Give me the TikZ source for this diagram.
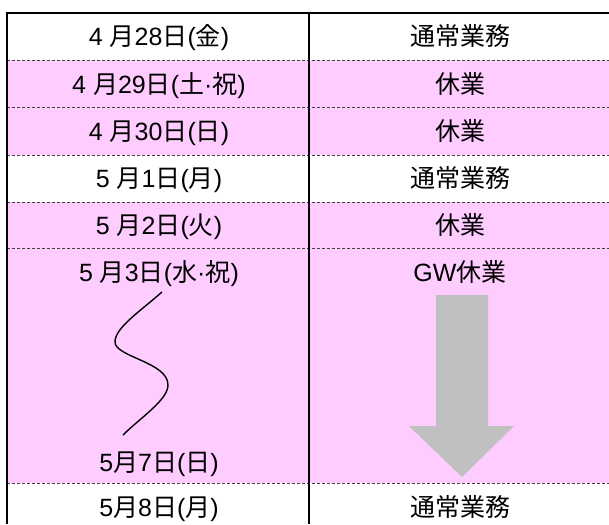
\documentclass[tikz,border=0pt]{standalone}
\usepackage{fontspec}
\setmainfont{Liberation Sans}
\newfontfamily\jpfont{Noto Sans CJK JP}
\newcommand{\J}[1]{{\jpfont #1}}
\definecolor{pinkbg}{HTML}{FFCCFF}
\definecolor{arrowgray}{HTML}{C0C0C0}
\begin{document}
\begin{tikzpicture}[x=1pt,y=-1pt,
  cell/.style={anchor=base, inner sep=0pt, font=\fontsize{25}{29}\selectfont},
  border/.style={line width=2pt, black},
  sepline/.style={line width=0.8pt, black!75, dash pattern=on 3pt off 2pt},
  wave/.style={line width=1.4pt, black}]
\useasboundingbox (0,0) rectangle (609,524);
% pink rows
\fill[pinkbg] (7,60) rectangle (611,155);
\fill[pinkbg] (7,202) rectangle (611,483);
% dashed separators
\foreach \y in {60,107,155,202,248,483} \draw[sepline] (7,\y) -- (611,\y);
% big down arrow
\fill[arrowgray] (436,295) -- (488,295) -- (488,426) -- (514,426) -- (462,477) -- (409,426) -- (436,426) -- cycle;
% left column
\node[cell] (d1) at (159,46) {4 \J{月}28\J{日}(\J{金})};
\node[cell] (d2) at (159,93) {4 \J{月}29\J{日}(\J{土}·\J{祝})};
\node[cell] (d3) at (159,140) {4 \J{月}30\J{日}(\J{日})};
\node[cell] (d4) at (159,187) {5 \J{月}1\J{日}(\J{月})};
\node[cell] (d5) at (159,234) {5 \J{月}2\J{日}(\J{火})};
\node[cell] (d6) at (159,281) {5 \J{月}3\J{日}(\J{水}·\J{祝})};
\node[cell] (d7) at (159,471) {5\J{月}7\J{日}(\J{日})};
\node[cell] (d8) at (159,516) {5\J{月}8\J{日}(\J{月})};
% right column
\node[cell] (s1) at (460,46) {\J{通常業務}};
\node[cell] (s2) at (460,93) {\J{休業}};
\node[cell] (s3) at (460,140) {\J{休業}};
\node[cell] (s4) at (460,187) {\J{通常業務}};
\node[cell] (s5) at (460,234) {\J{休業}};
\node[cell] (s6) at (460,281) {GW\J{休業}};
\node[cell] (s8) at (460,516) {\J{通常業務}};
% wavy line
\coordinate (ws) at (162,292);
\coordinate (we) at (123,435);
\draw[wave] (ws) .. controls (138,313) and (115,328) .. (115,342)
  .. controls (115,357) and (168,362) .. (168,385)
  .. controls (168,400) and (140,418) .. (we);
% borders
\draw[border] (6,13) -- (611,13);
\draw[border] (7,12) -- (7,524);
\draw[border] (309,13) -- (309,524);
\end{tikzpicture}
\end{document}
